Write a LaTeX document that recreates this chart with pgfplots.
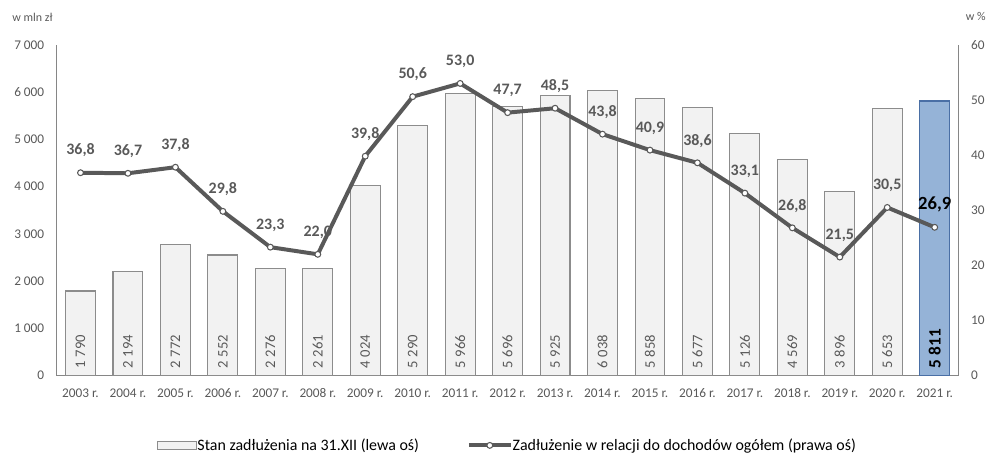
\documentclass[border=0pt]{standalone}
\usepackage{pgfplots}
\pgfplotsset{compat=1.18}
\usepackage{fontspec}
\setmainfont{Carlito}
\definecolor{barfill}{HTML}{F2F2F2}
\definecolor{bardraw}{HTML}{8C8C8C}
\definecolor{lastfill}{HTML}{95B3D7}
\definecolor{lastdraw}{HTML}{4A6FA5}
\definecolor{linec}{HTML}{595959}
\definecolor{axisc}{HTML}{868686}
\definecolor{txt}{HTML}{595959}
\pgfplotsset{
  mylegline/.style={legend image code/.code={\draw[##1, mark repeat=2, mark phase=2] plot coordinates {(0pt,0pt) (15.75pt,0pt) (31.5pt,0pt)};}},
  mylegbar/.style={legend image code/.code={\draw[fill=barfill, draw=bardraw, line width=0.8pt] (0pt,-3pt) rectangle (30pt,3pt);}},
}
\begin{document}
\begin{tikzpicture}
\pgfplotsset{
  common/.style={
    width=678.75pt, height=249pt, scale only axis,
    at={(42.75pt,58.5pt)}, anchor=south west,
    xmin=-0.5, xmax=18.5, clip=false,
    major tick length=0pt,
    tick label style={font=\fontsize{10}{12}\selectfont, text=txt},
    /pgf/number format/assume math mode=true,
  }
}
\begin{axis}[common,
  axis x line=bottom, axis y line=left,
  axis line style={-, draw=axisc, line width=0.8pt},
  ymin=0, ymax=7000, ytick={0,1000,...,7000},
  /pgf/number format/1000 sep={\hspace{0.22em}},
  xtick={0,...,18},
  xticklabels={{2003 r.},{2004 r.},{2005 r.},{2006 r.},{2007 r.},{2008 r.},{2009 r.},{2010 r.},{2011 r.},{2012 r.},{2013 r.},{2014 r.},{2015 r.},{2016 r.},{2017 r.},{2018 r.},{2019 r.},{2020 r.},{2021 r.}},
  xticklabel style={anchor=north, text height=7pt, text depth=2pt, yshift=-6pt},
  yticklabel style={xshift=-6pt},
]
\addplot[ybar, bar width=22.5pt, bar shift=0pt, fill=barfill, draw=bardraw, line width=0.8pt]
coordinates {(0,1790) (1,2194) (2,2772) (3,2552) (4,2276) (5,2261) (6,4024) (7,5290) (8,5966) (9,5696) (10,5925) (11,6038) (12,5858) (13,5677) (14,5126) (15,4569) (16,3896) (17,5653)};
\addplot[ybar, bar width=22.5pt, bar shift=0pt, fill=lastfill, draw=lastdraw, line width=0.8pt]
coordinates {(18,5811)};
\addplot[draw=none, mark=none, nodes near coords, point meta=explicit symbolic,
  every node near coord/.style={rotate=90, anchor=west, font=\fontsize{11}{13}\selectfont, text=txt}]
coordinates {(0,60) [1\ 790] (1,60) [2\ 194] (2,60) [2\ 772] (3,60) [2\ 552] (4,60) [2\ 276] (5,60) [2\ 261] (6,60) [4\ 024] (7,60) [5\ 290] (8,60) [5\ 966] (9,60) [5\ 696] (10,60) [5\ 925] (11,60) [6\ 038] (12,60) [5\ 858] (13,60) [5\ 677] (14,60) [5\ 126] (15,60) [4\ 569] (16,60) [3\ 896] (17,60) [5\ 653]};
\addplot[draw=none, mark=none, nodes near coords, point meta=explicit symbolic,
  every node near coord/.style={rotate=90, anchor=west, font=\fontsize{13}{15}\selectfont\bfseries, text=black}]
coordinates {(18,60) [5\ 811]};
\node[anchor=west, font=\fontsize{9}{11}\selectfont, text=txt] at ([xshift=-37pt, yshift=21pt]rel axis cs:0,1) {w mln zł};
\end{axis}
\begin{axis}[common,
  axis x line=none, axis y line=right,
  axis line style={-, draw=axisc, line width=0.8pt},
  ymin=0, ymax=60, ytick={0,10,...,60},
  yticklabel style={xshift=6pt},
  legend columns=2,
  legend style={at={(0.5,-0.211)}, anchor=center, draw=none, fill=none,
    font=\fontsize{12}{14}\selectfont, text=black,
    /tikz/every even column/.append style={column sep=34pt},
    /tikz/every odd column/.append style={column sep=-2pt}},
]
\addlegendimage{mylegbar}
\addlegendentry{Stan zadłużenia na 31.XII (lewa oś)}
\addplot[color=linec, line width=3pt, mark=*, mark size=2.2pt,
  mark options={fill=white, draw=linec, line width=0.8pt},
  nodes near coords, point meta=explicit symbolic,
  every node near coord/.style={anchor=south, yshift=8pt, font=\fontsize{12}{14}\selectfont\bfseries, text=txt},
  mylegline]
coordinates {(0,36.8) [36,8] (1,36.7) [36,7] (2,37.8) [37,8] (3,29.8) [29,8] (4,23.3) [23,3] (5,22.0) [22,0] (6,39.8) [39,8] (7,50.6) [50,6] (8,53.0) [53,0] (9,47.7) [47,7] (10,48.5) [48,5] (11,43.8) [43,8] (12,40.9) [40,9] (13,38.6) [38,6] (14,33.1) [33,1] (15,26.8) [26,8] (16,21.5) [21,5] (17,30.5) [30,5] (18,26.9) []};
\addlegendentry{Zadłużenie w relacji do dochodów ogółem (prawa oś)}
\addplot[draw=none, mark=none, nodes near coords, point meta=explicit symbolic, forget plot,
  every node near coord/.style={anchor=south, yshift=8pt, font=\fontsize{14}{16}\selectfont\bfseries, text=black}]
coordinates {(18,26.9) [26,9]};
\node[anchor=west, font=\fontsize{9}{11}\selectfont, text=txt] at ([xshift=2pt, yshift=21pt]rel axis cs:1,1) {w \%};
\end{axis}
\path[use as bounding box] (0,0) rectangle (742.5pt,341.25pt);
\end{tikzpicture}
\end{document}
